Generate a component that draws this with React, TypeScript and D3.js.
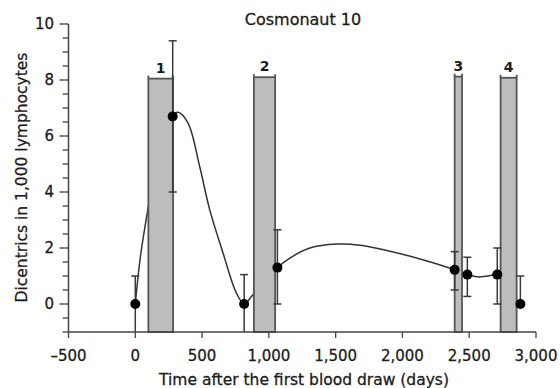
import React from "react";
import * as d3 from "d3";

// ---- data ----
const days = [0, 280, 815, 1064, 2391, 2486, 2710, 2883];
const dicentrics = [0, 6.7, 0, 1.3, 1.22, 1.05, 1.05, 0];
const errLow = [-1, 4.0, -1, 0, 0.5, 0.27, 0, 0];
const errHigh = [1.0, 9.4, 1.05, 2.65, 1.87, 1.67, 2.0, 1.0];

const flightLabels = ["1", "2", "3", "4"];
const flightStart = [98, 888, 2391, 2735];
const flightEnd = [283, 1047, 2446, 2855];
const flightTop = [8.05, 8.1, 8.12, 8.08];

// fitted curve
const fitDays = [0, 40, 94, 180, 280, 320, 395, 482, 557, 657, 757, 815, 870, 960, 1064, 1157, 1307, 1507, 1682, 1882, 2132, 2391, 2440, 2486, 2560, 2640, 2710];
const fitValues = [0, 1.75, 3.37, 5.6, 6.72, 6.85, 6.46, 4.91, 3.37, 1.82, 0.39, 0.0, 0.27, 0.75, 1.3, 1.64, 2.0, 2.14, 2.1, 1.91, 1.61, 1.22, 1.12, 1.05, 0.97, 1.0, 1.05];

const xTicks = [-500, 0, 500, 1000, 1500, 2000, 2500, 3000];
const yTicks = [0, 2, 4, 6, 8, 10];

const title = "Cosmonaut 10";
const xTitle = "Time after the first blood draw (days)";
const yTitle = "Dicentrics in 1,000 lymphocytes";

const W = 560;
const H = 388;
const FONT = "'DejaVu Sans', Verdana, sans-serif";
const TXT = "#1c1c1c";

export default function App() {
  const x = d3.scaleLinear().domain([-500, 3000]).range([68.5, 536]);
  const y = d3.scaleLinear().domain([-1, 10]).range([332, 24]);

  const fmt = (v: number) => (v < 0 ? "\u2013" + d3.format(",")(-v) : d3.format(",")(v));

  const curvePts: [number, number][] = fitDays.map((d, i) => [d, fitValues[i]]);
  const line = d3
    .line<[number, number]>()
    .x((d) => x(d[0]))
    .y((d) => y(d[1]))
    .curve(d3.curveCatmullRom.alpha(0.5));

  const minorY = d3.range(-1, 10.001, 0.5);
  const y0 = y(-1);
  const clampY = (v: number) => Math.max(-1, Math.min(10, v));
  const txtStyle = { stroke: TXT, strokeWidth: 0.3 };

  return (
    <svg
      width={W}
      height={H}
      style={{ position: "absolute", left: 0, top: 0, background: "#fff" }}
      fontFamily={FONT}
    >
      {/* title */}
      <text x={303} y={25} textAnchor="middle" fontSize={16} fill={TXT} style={txtStyle}>
        {title}
      </text>

      {/* fitted curve */}
      <path d={line(curvePts) || ""} fill="none" stroke="#333" strokeWidth={1.5} />

      {/* flight bars */}
      {flightLabels.map((lab, i) => {
        const x1 = x(flightStart[i]);
        const x2 = x(flightEnd[i]);
        const yt = y(flightTop[i]);
        return (
          <g key={lab}>
            <rect x={x1} y={yt} width={x2 - x1} height={y0 - yt} fill="#bdbdbd" stroke="#555" strokeWidth={1.8} />
            <line x1={x1} x2={x1} y1={yt - 3} y2={yt} stroke="#555" strokeWidth={1.8} />
            <line x1={x2} x2={x2} y1={yt - 3} y2={yt} stroke="#555" strokeWidth={1.8} />
            <text x={(x1 + x2) / 2} y={yt - 6} textAnchor="middle" fontSize={14} fontWeight="bold" fill={TXT}>
              {lab}
            </text>
          </g>
        );
      })}

      {/* error bars */}
      {days.map((d, i) => {
        const cx = x(d);
        const lo = clampY(errLow[i]);
        const hi = clampY(errHigh[i]);
        return (
          <g key={"e" + i} stroke="#3a3a3a" strokeWidth={1.5}>
            <line x1={cx} x2={cx} y1={y(lo)} y2={y(hi)} />
            <line x1={cx - 4} x2={cx + 4} y1={y(hi)} y2={y(hi)} />
            {errLow[i] > -1 && <line x1={cx - 4} x2={cx + 4} y1={y(lo)} y2={y(lo)} />}
          </g>
        );
      })}

      {/* points */}
      {days.map((d, i) => (
        <circle key={"p" + i} cx={x(d)} cy={y(dicentrics[i])} r={5} fill="#000" />
      ))}

      {/* y axis */}
      <line x1={x(-500)} x2={x(-500)} y1={y(10)} y2={y(-1)} stroke="#444" strokeWidth={1.5} />
      {minorY.map((v) => {
        const major = yTicks.includes(v);
        return (
          <line
            key={"ym" + v}
            x1={x(-500) - (major ? 9 : 6)}
            x2={x(-500)}
            y1={y(v)}
            y2={y(v)}
            stroke="#444"
            strokeWidth={1.3}
          />
        );
      })}
      {yTicks.map((v) => (
        <text key={"yt" + v} x={54} y={y(v)} dy="0.36em" textAnchor="end" fontSize={15} fill={TXT} style={txtStyle}>
          {v}
        </text>
      ))}
      <text
        transform={`translate(26.5,177.5) rotate(-90)`}
        textAnchor="middle"
        fontSize={15.5}
        fill={TXT}
        style={txtStyle}
      >
        {yTitle}
      </text>

      {/* x axis */}
      <line x1={x(-500)} x2={x(3000)} y1={y0} y2={y0} stroke="#444" strokeWidth={1.5} />
      {xTicks.map((v) => (
        <g key={"xt" + v}>
          <line x1={x(v)} x2={x(v)} y1={y0} y2={y0 + 6} stroke="#444" strokeWidth={1.3} />
          <text x={x(v)} y={360.5} textAnchor="middle" fontSize={15} fill={TXT} style={txtStyle}>
            {fmt(v)}
          </text>
        </g>
      ))}
      <text x={304} y={385} textAnchor="middle" fontSize={15.5} fill={TXT} style={txtStyle}>
        {xTitle}
      </text>
    </svg>
  );
}
